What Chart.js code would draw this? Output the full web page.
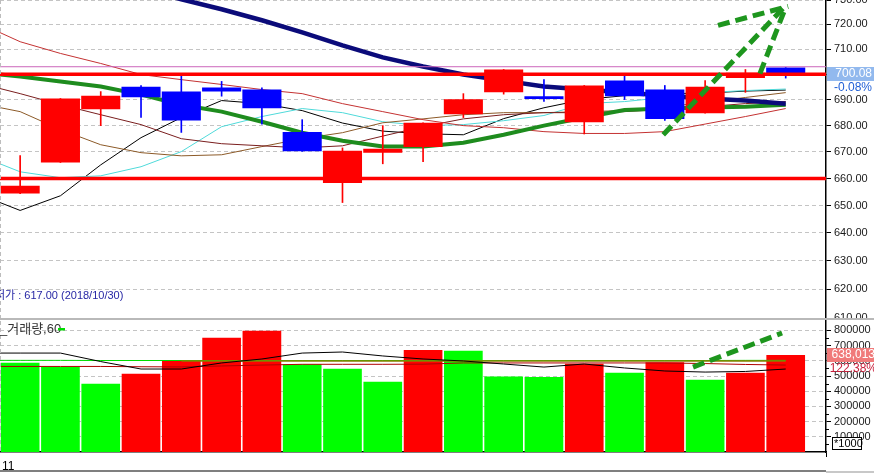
<!DOCTYPE html>
<html>
<head>
<meta charset="utf-8">
<script src="https://cdn.jsdelivr.net/npm/chart.js@4.4.1/dist/chart.umd.min.js"></script>
<style>
  html, body { margin: 0; padding: 0; background: #fff; }
  body { width: 874px; height: 474px; position: relative; overflow: hidden; }
  canvas { position: absolute; left: 0; }
  #price { top: 0; }
  #volume { top: 320px; }
</style>
</head>
<body>
<canvas id="price" width="874" height="320"></canvas>
<canvas id="volume" width="874" height="154"></canvas>
<script>
// trading days of November 2018
var dates = ['2018/11/01', '2018/11/02', '2018/11/05', '2018/11/06', '2018/11/07', '2018/11/08', '2018/11/09',
  '2018/11/12', '2018/11/13', '2018/11/14', '2018/11/15', '2018/11/16', '2018/11/19', '2018/11/20',
  '2018/11/21', '2018/11/22', '2018/11/23', '2018/11/26', '2018/11/27', '2018/11/28'];

var open  = [654.4, 666.0, 686.3, 695.1, 693.2, 694.8, 694.0, 677.6, 658.3, 669.7, 671.8, 684.4, 692.9, 691.4, 681.3, 697.6, 694.0, 684.8, 698.5, 702.7];
var high  = [668.6, 690.5, 693.2, 695.6, 699.5, 697.2, 694.7, 682.3, 671.5, 680.0, 681.1, 692.4, 701.9, 697.9, 695.6, 699.5, 695.6, 697.5, 701.9, 702.7];
var low   = [654.4, 666.0, 680.0, 683.2, 677.4, 691.4, 680.6, 670.2, 651.1, 665.5, 666.3, 683.1, 692.2, 689.4, 676.8, 690.1, 682.0, 684.8, 692.9, 698.5];
var close = [657.3, 690.5, 691.6, 691.0, 682.0, 693.2, 686.7, 670.2, 670.4, 671.2, 681.1, 690.2, 701.9, 690.3, 695.6, 691.4, 682.6, 695.1, 700.64, 700.08];

var volume = [587000, 561000, 449000, 515000, 605000, 752000, 798000, 577000, 548000, 462000,
  671000, 666000, 497000, 494000, 581000, 522000, 590000, 476000, 521335, 638013];

// moving averages, first value is 2018/10/31
var ma5   = [654.0, 648.2, 653.6, 665.1, 675.4, 683.1, 689.7, 688.5, 685.8, 681.0, 677.9, 676.9, 676.5, 682.7, 686.9, 690.1, 691.6, 692.4, 692.6, 693.4, 693.8];
var ma10  = [668.5, 662.5, 660.3, 661.0, 664.4, 670.1, 679.6, 683.5, 686.6, 685.0, 681.5, 680.0, 680.4, 681.9, 683.9, 688.5, 689.3, 690.9, 692.8, 693.6, 694.2];
var ma20  = [688.5, 685.4, 678.5, 672.7, 669.7, 668.5, 668.9, 672.0, 675.0, 677.3, 681.1, 682.6, 684.2, 685.0, 685.0, 685.4, 685.8, 687.3, 688.9, 690.9, 692.8];
var ma30  = [696.4, 692.4, 688.1, 684.2, 680.4, 675.0, 673.1, 672.3, 671.5, 672.3, 676.0, 679.6, 682.6, 684.2, 685.0, 685.0, 685.4, 686.3, 687.3, 688.5, 689.3];
var ma60  = [700.7, 699.1, 697.2, 695.2, 692.0, 688.1, 685.4, 681.5, 677.3, 674.2, 672.0, 672.0, 673.5, 676.5, 680.0, 683.1, 686.0, 686.6, 687.0, 687.3, 688.1];
var ma90  = [720.4, 713.0, 708.3, 704.3, 699.9, 697.9, 696.0, 694.0, 692.4, 688.5, 685.4, 682.3, 680.0, 679.2, 677.7, 677.0, 677.0, 677.7, 680.6, 683.5, 686.6];
var ma120 = [753.4, 748.8, 744.0, 739.4, 734.8, 730.3, 726.2, 721.7, 716.8, 711.5, 706.7, 703.1, 699.9, 697.5, 695.2, 694.0, 692.8, 691.6, 690.5, 689.7, 688.5];

var volMa5   = [651000, 651000, 651000, 595000, 546000, 546000, 586000, 612000, 651000, 658000, 632000, 612000, 599000, 579000, 559000, 579000, 553000, 533000, 526000, 530000, 546000];
var volMa20  = [563000, 563000, 563000, 563000, 561000, 560000, 566000, 572000, 577000, 577000, 577000, 578000, 586000, 586000, 586000, 586000, 586000, 586000, 582000, 576000, 572000];
var volMa60  = [603000, 603000, 603000, 602000, 602000, 602000, 602000, 602000, 602000, 602000, 602000, 602000, 602000, 602000, 602000, 602000, 602000, 602000, 602000, 603000, 603000];
var volMa120 = [null, null, null, null, null, 599000, 599000, 599000, 599000, 599000, 599000, 599000, 599500, 599500, 599500, 599500, 599500, 599500, 599500, 599500, 599000];

var priceTicks = [610, 620, 630, 640, 650, 660, 670, 680, 690, 700, 710, 720, 730];
var volumeTicks = [100000, 200000, 300000, 400000, 500000, 600000, 700000, 800000];

var levels = [700, 660];
var highLevel = 703;
var lowestPrice = 617.00;
var lowestDate = '2018/10/30';

// hand drawn arrows: [index1, value1, index2, value2]
var priceArrow = [[15.96, 676.5, 18.98, 727.4], [17.32, 719.6, 19.06, 727.4], [18.36, 700.3, 18.98, 726.2]];
var volumeArrow = [[16.7, 559000, 18.91, 783000]];

var FONT = '"Liberation Sans", "Noto Sans CJK KR", sans-serif';
Chart.defaults.font.family = FONT;

var n = dates.length;
var monthStarts = [];
dates.forEach(function (d, i) {
  if (i === 0 || d.slice(5, 7) !== dates[i - 1].slice(5, 7)) monthStarts.push(i);
});

var candleColors = close.map((c, i) => c >= open[i] ? '#ff0000' : '#0000ff');
var volumeColors = volume.map((v, i) => (i > 0 && v > volume[i - 1]) ? '#ff0000' : '#00ff00');

function shifted(arr) {
  return arr.map((v, i) => ({ x: i - 1, y: v }));
}

function maLine(values, color, width, order) {
  return {
    type: 'line', data: shifted(values), borderColor: color, borderWidth: width,
    pointRadius: 0, tension: 0, fill: false, order: order
  };
}

function fixAxis(s) {
  s.width = 48;
  s.paddingTop = 0;
  s.paddingBottom = 0;
}

function xAxis(show) {
  var axis = {
    type: 'linear', min: -0.5, max: 20, offset: false, display: show,
    afterBuildTicks: s => { s.ticks = monthStarts.map(i => ({ value: i - 0.45 })); },
    ticks: {
      autoSkip: false, maxRotation: 0, align: 'start', padding: 2,
      color: '#000', font: { size: 12 },
      callback: (v, i) => String(parseInt(dates[monthStarts[i]].slice(5, 7), 10))
    },
    grid: { drawOnChartArea: false, tickLength: 5, tickColor: '#000' },
    border: { color: '#000', width: 1.5 }
  };
  if (show) {
    axis.afterFit = s => { s.height = 22; s.paddingLeft = 0; s.paddingRight = 0; };
  }
  return axis;
}

function hline(ctx, a, py) {
  ctx.beginPath();
  ctx.moveTo(a.left, py);
  ctx.lineTo(a.right, py);
  ctx.stroke();
}

function drawArrow(ctx, xs, ys, segs) {
  ctx.strokeStyle = '#1e961e';
  ctx.lineWidth = 5;
  ctx.setLineDash([12, 6]);
  segs.forEach(function (s) {
    ctx.beginPath();
    ctx.moveTo(xs.getPixelForValue(s[0]), ys.getPixelForValue(s[1]));
    ctx.lineTo(xs.getPixelForValue(s[2]), ys.getPixelForValue(s[3]));
    ctx.stroke();
  });
  ctx.setLineDash([]);
}

function leftBorder(ctx, a) {
  ctx.save();
  ctx.strokeStyle = '#bdbdbd';
  ctx.lineWidth = 1;
  ctx.setLineDash([4, 3]);
  ctx.beginPath();
  ctx.moveTo(0.5, a.top);
  ctx.lineTo(0.5, a.bottom);
  ctx.stroke();
  ctx.restore();
}

var priceExtras = {
  id: 'priceExtras',
  afterDatasetsDraw: function (chart) {
    var ctx = chart.ctx, a = chart.chartArea, x = chart.scales.x, y = chart.scales.y;
    ctx.save();
    ctx.beginPath();
    ctx.rect(a.left, a.top, a.right - a.left, a.bottom - a.top);
    ctx.clip();
    ctx.lineWidth = 1;
    ctx.strokeStyle = '#cc66bb';
    hline(ctx, a, y.getPixelForValue(highLevel));
    ctx.lineWidth = 3.5;
    ctx.strokeStyle = '#ff0000';
    levels.forEach(v => hline(ctx, a, y.getPixelForValue(v)));
    drawArrow(ctx, x, y, priceArrow);
    ctx.restore();
  },
  afterDraw: function (chart) {
    var ctx = chart.ctx, a = chart.chartArea, y = chart.scales.y;
    leftBorder(ctx, a);
    ctx.save();
    ctx.font = '11px ' + FONT;
    ctx.textBaseline = 'middle';
    ctx.textAlign = 'left';
    ctx.fillStyle = '#2727a5';
    var lowText = '최저가 : ' + lowestPrice.toFixed(2) + ' (' + lowestDate + ')';
    ctx.fillText(lowText, 5 - ctx.measureText('최저').width, 296);

    var last = close[n - 1];
    var pct = (last - close[n - 2]) / close[n - 2] * 100;
    var ly = Math.round(y.getPixelForValue(last));
    ctx.fillStyle = '#92b9ee';
    ctx.fillRect(a.right + 1, ly - 7, 874 - a.right, 14);
    ctx.textAlign = 'right';
    ctx.font = '12px ' + FONT;
    ctx.fillStyle = '#ffffff';
    ctx.fillText(last.toFixed(2), 872, ly);
    ctx.fillStyle = '#1f5fd6';
    ctx.fillText(pct.toFixed(2) + '%', 872, ly + 14);

    ctx.fillStyle = '#b9b9b9';
    ctx.fillRect(0, 318, 874, 2.5);
    ctx.restore();
  }
};

var volumeExtras = {
  id: 'volumeExtras',
  afterDatasetsDraw: function (chart) {
    var ctx = chart.ctx, a = chart.chartArea;
    ctx.save();
    ctx.beginPath();
    ctx.rect(a.left, a.top, a.right - a.left, a.bottom - a.top);
    ctx.clip();
    drawArrow(ctx, chart.scales.x, chart.scales.y, volumeArrow);
    ctx.restore();
  },
  afterDraw: function (chart) {
    var ctx = chart.ctx, a = chart.chartArea, y = chart.scales.y;
    leftBorder(ctx, a);
    ctx.save();
    // minor ticks
    ctx.strokeStyle = '#000';
    ctx.lineWidth = 1;
    volumeTicks.forEach(function (v) {
      var py = Math.round(y.getPixelForValue(v - 50000)) + 0.5;
      ctx.beginPath();
      ctx.moveTo(a.right, py);
      ctx.lineTo(a.right + 3, py);
      ctx.stroke();
    });

    ctx.font = '13px ' + FONT;
    ctx.textBaseline = 'middle';
    ctx.textAlign = 'left';
    ctx.fillStyle = '#333';
    ctx.fillText('_거래량,60', 0, a.top + 8);
    ctx.fillStyle = '#00dd00';
    ctx.fillRect(58, a.top + 7, 7, 2.5);

    var last = volume[n - 1];
    var ratio = last / volume[n - 2] * 100;
    var ly = Math.round(y.getPixelForValue(last));
    ctx.fillStyle = '#f07a7a';
    ctx.fillRect(a.right + 1, ly - 7, 874 - a.right, 14);
    ctx.font = '12px ' + FONT;
    ctx.textAlign = 'right';
    ctx.fillStyle = '#ffffff';
    ctx.fillText(last.toLocaleString('en-US'), 875, ly);
    ctx.fillStyle = '#c8203c';
    ctx.fillText(ratio.toFixed(2) + '%', 877, ly + 14);

    // unit box
    var by = a.bottom - 15;
    ctx.fillStyle = '#fff';
    ctx.fillRect(a.right + 6, by, 29, 12);
    ctx.strokeStyle = '#000';
    ctx.strokeRect(a.right + 6.5, by + 0.5, 29, 12);
    ctx.font = '11px ' + FONT;
    ctx.textAlign = 'left';
    ctx.fillStyle = '#000';
    ctx.fillText('*1000', a.right + 8, by + 6.5);

    ctx.fillStyle = '#000';
    ctx.fillRect(0, 150.5, a.right, 1);
    ctx.fillStyle = '#c8c8c8';
    ctx.fillRect(a.right, 151, 874 - a.right, 2);
    ctx.restore();
  }
};

var wicks = dates.map((d, i) => ({ x: i, y: [low[i], high[i]] }));
var bodies = dates.map((d, i) => ({ x: i, y: [open[i], close[i]] }));

var priceChart = new Chart(document.getElementById('price'), {
  type: 'bar',
  data: {
    datasets: [
      maLine(ma120, '#0b0b7a', 4.5, 11),
      maLine(ma60, '#1e8c1e', 4, 12),
      maLine(ma90, '#c43232', 1, 13),
      maLine(ma30, '#7a1e1e', 1, 14),
      maLine(ma20, '#8c5a28', 1, 15),
      maLine(ma10, '#4fdada', 1, 16),
      maLine(ma5, '#000000', 1, 17),
      { type: 'bar', data: wicks, backgroundColor: candleColors, barThickness: 1, grouped: false, order: 3 },
      { type: 'bar', data: bodies, backgroundColor: candleColors, barPercentage: 0.97, categoryPercentage: 1, grouped: false, order: 2 }
    ]
  },
  options: {
    responsive: false,
    animation: false,
    events: [],
    layout: { padding: { top: 0, bottom: 2, left: 0, right: 0 } },
    plugins: { legend: { display: false }, tooltip: { enabled: false } },
    scales: {
      x: xAxis(false),
      y: {
        type: 'logarithmic', position: 'right', min: 610, max: 730,
        afterBuildTicks: s => { s.ticks = priceTicks.map(v => ({ value: v })); },
        afterFit: fixAxis,
        ticks: { autoSkip: false, padding: 3, color: '#1a1a1a', font: { size: 11 }, callback: v => Number(v).toFixed(2) },
        grid: { color: '#c4c4c4', tickColor: '#000', tickLength: 5 },
        border: { color: '#000', width: 1.5, dash: [4, 3] }
      }
    }
  },
  plugins: [priceExtras]
});

var volumeChart = new Chart(document.getElementById('volume'), {
  type: 'bar',
  data: {
    datasets: [
      { type: 'bar', data: volume.map((v, i) => ({ x: i, y: v })), backgroundColor: volumeColors,
        barPercentage: 0.96, categoryPercentage: 1, grouped: false, order: 10 },
      maLine(volMa60, '#00dd00', 1, 5),
      maLine(volMa20, '#b00000', 1, 4),
      maLine(volMa120, '#8b7d00', 1.5, 3),
      maLine(volMa5, '#000000', 1, 2)
    ]
  },
  options: {
    responsive: false,
    animation: false,
    events: [],
    layout: { padding: { top: 1, bottom: 0, left: 0, right: 0 } },
    plugins: { legend: { display: false }, tooltip: { enabled: false } },
    scales: {
      x: xAxis(true),
      y: {
        type: 'linear', position: 'right', min: 0, max: 862000, beginAtZero: true,
        afterBuildTicks: s => { s.ticks = volumeTicks.map(v => ({ value: v })); },
        afterFit: fixAxis,
        ticks: { autoSkip: false, padding: 3, color: '#1a1a1a', font: { size: 11 }, callback: v => String(v) },
        grid: { color: '#c4c4c4', tickColor: '#000', tickLength: 5 },
        border: { color: '#000', width: 1.5, dash: [4, 3] }
      }
    }
  },
  plugins: [volumeExtras]
});
</script>
</body>
</html>
